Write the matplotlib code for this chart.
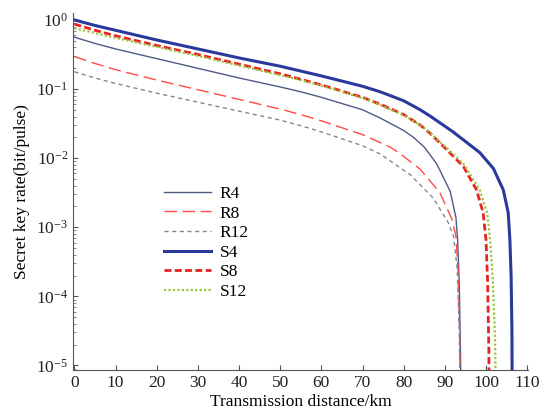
import numpy as np
import matplotlib
matplotlib.use("Agg")
import matplotlib.pyplot as plt

# distances (km) and log10(key rate)
r4_d = [0, 5, 10, 20, 30, 40, 50, 55, 60, 70, 74.3, 80, 82.4, 85, 88, 91.3, 92.7, 93.1, 93.5, 93.8, 94]
r4_log = [-0.25, -0.34, -0.42, -0.56, -0.7, -0.84, -0.97, -1.04, -1.12, -1.30, -1.42, -1.60, -1.70,
          -1.84, -2.08, -2.48, -2.86, -3.18, -3.8, -4.8, -6]

r8_d = [0, 5, 10, 20, 30, 40, 50, 55, 60, 70, 76.7, 79, 84, 88.8, 91.7, 92.7, 93.2, 93.6, 93.8]
r8_log = [-0.53, -0.63, -0.72, -0.87, -1.01, -1.15, -1.29, -1.37, -1.46, -1.66, -1.84, -1.93, -2.16,
          -2.5, -2.88, -3.13, -3.6, -4.6, -6]

r12_d = [0, 5, 10, 20, 30, 40, 50, 55, 60, 70, 74.3, 81.6, 87.2, 90.9, 92.1, 93, 93.5, 93.8]
r12_log = [-0.75, -0.84, -0.92, -1.06, -1.19, -1.32, -1.45, -1.53, -1.62, -1.82, -1.94, -2.24, -2.58,
           -2.94, -3.13, -3.6, -4.5, -6]

s4_d = [0, 5, 10, 20, 30, 40, 50, 55, 60, 70, 74.3, 80, 84, 86.4, 92, 98.5, 101.8, 104.2, 105.4,
        105.8, 106.1, 106.3, 106.4]
s4_log = [0.0, -0.08, -0.15, -0.29, -0.42, -0.55, -0.67, -0.74, -0.81, -0.96, -1.04, -1.17, -1.30,
          -1.39, -1.62, -1.92, -2.15, -2.46, -2.79, -3.18, -3.7, -4.5, -6]

s8_d = [0, 5, 10, 20, 30, 40, 50, 55, 60, 70, 74.3, 80, 84, 86.4, 90, 94.5, 97.7, 99.3, 100,
        100.4, 100.7, 100.8]
s8_log = [-0.06, -0.15, -0.23, -0.37, -0.5, -0.64, -0.78, -0.86, -0.94, -1.12, -1.22, -1.37, -1.52,
          -1.64, -1.85, -2.12, -2.46, -2.79, -3.18, -3.8, -4.8, -6]

s12_d = [0, 5, 10, 20, 30, 40, 50, 55, 60, 70, 74.3, 80, 84, 86.4, 90, 94.5, 98.5, 100.3, 101,
         101.6, 102.2, 102.5]
s12_log = [-0.12, -0.19, -0.26, -0.39, -0.52, -0.66, -0.8, -0.87, -0.95, -1.13, -1.23, -1.38, -1.52,
           -1.63, -1.83, -2.08, -2.46, -2.8, -3.18, -3.7, -4.6, -6]

x_ticks = [0, 10, 20, 30, 40, 50, 60, 70, 80, 90, 100, 110]

plt.rcParams["font.family"] = ["Liberation Serif", "DejaVu Serif"]
plt.rcParams["mathtext.fontset"] = "stix"

fig = plt.figure(figsize=(5.46, 4.19), dpi=100)
ax = fig.add_axes([0.134, 0.117, 0.833, 0.852])

series = [
    ("R4", r4_d, r4_log, dict(color="#4d5a85", lw=1.0, ls="-")),
    ("R8", r8_d, r8_log, dict(color="#ff4a4a", lw=1.0, ls=(0, (9, 4)))),
    ("R12", r12_d, r12_log, dict(color="#7d8a9c", lw=1.0, ls=(0, (3, 2.5)))),
    ("S4", s4_d, s4_log, dict(color="#2a3a9c", lw=2.2, ls="-")),
    ("S8", s8_d, s8_log, dict(color="#e82222", lw=2.0, ls=(0, (2.5, 1.2)))),
    ("S12", s12_d, s12_log, dict(color="#9ac43c", lw=1.6, ls=(0, (1, 1)))),
]
for name, d, lg, st in series:
    ax.semilogy(d, 10 ** np.array(lg), label=name, **st)

ax.set_xlim(-0.3, 110.2)
ax.set_ylim(8.6e-6, 1.26)
ax.set_xticks(x_ticks)
ax.spines["top"].set_visible(False)
ax.spines["right"].set_visible(False)
ax.spines["left"].set_color("#555555")
ax.spines["bottom"].set_color("#555555")
ax.tick_params(direction="in", labelsize=12.5, colors="#555555", labelcolor="#222222")
ax.tick_params(which="minor", direction="in", colors="#777777")

ax.set_xlabel("Transmission distance/km", fontsize=12.5, labelpad=2)
ax.set_ylabel("Secret key rate(bit/pulse)", fontsize=12.5, labelpad=4)

ax.legend(loc="center left", bbox_to_anchor=(0.2, 0.356), frameon=False,
          fontsize=12.5, handlelength=2.7, handletextpad=0.5,
          labelspacing=0.2, borderpad=0, borderaxespad=0)

fig.savefig("out.png", dpi=100)
